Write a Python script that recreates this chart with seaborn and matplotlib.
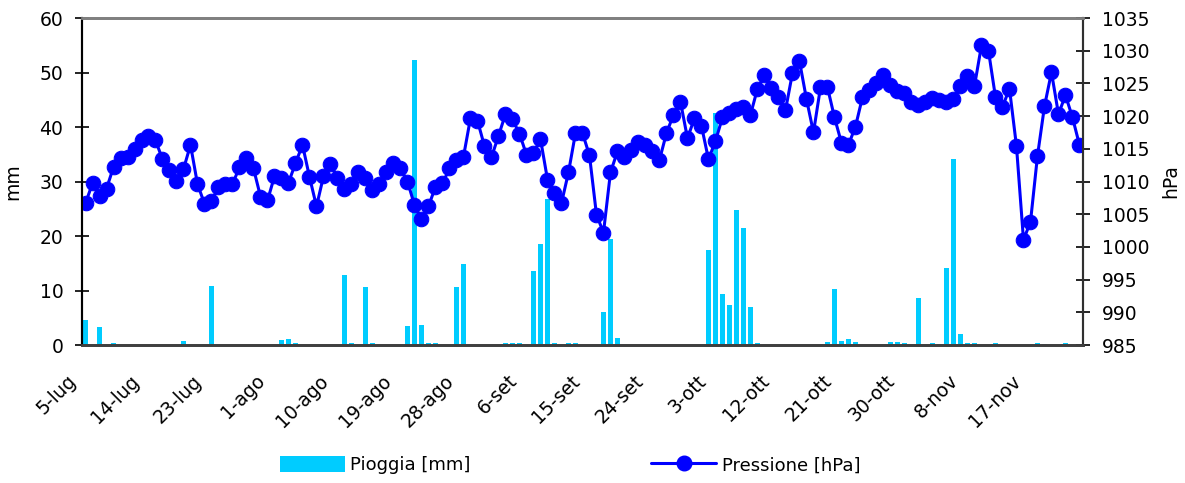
import numpy as np
import pandas as pd
import matplotlib
matplotlib.use("Agg")
import matplotlib.pyplot as plt
import matplotlib.transforms as mtransforms
import seaborn as sns
from matplotlib.lines import Line2D
from matplotlib.patches import Patch

# daily values, 5 July -> 24 November
pressione = [
    1006.7, 1009.7, 1007.8, 1008.9, 1012.2, 1013.6, 1013.8, 1014.9, 1016.3, 1017.0,
    1016.3, 1013.4, 1011.8, 1010.1, 1011.9, 1015.6, 1009.6, 1006.6, 1007.0, 1009.2,
    1009.6, 1009.6, 1012.2, 1013.6, 1012.0, 1007.7, 1007.1, 1010.8, 1010.6, 1009.8,
    1012.8, 1015.6, 1010.7, 1006.2, 1010.8, 1012.7, 1010.6, 1008.8, 1009.6, 1011.5,
    1010.5, 1008.7, 1009.6, 1011.5, 1012.8, 1012.0, 1010.0, 1006.4, 1004.2, 1006.2,
    1009.2, 1009.7, 1012.0, 1013.3, 1013.8, 1019.7, 1019.3, 1015.4, 1013.7, 1017.0,
    1020.3, 1019.5, 1017.3, 1014.1, 1014.3, 1016.5, 1010.3, 1008.3, 1006.7, 1011.4,
    1017.4, 1017.4, 1014.0, 1004.9, 1002.2, 1011.4, 1014.6, 1013.7, 1014.8, 1016.1,
    1015.6, 1014.6, 1013.3, 1017.4, 1020.2, 1022.2, 1016.6, 1019.7, 1018.5, 1013.4,
    1016.2, 1019.8, 1020.4, 1021.1, 1021.4, 1020.2, 1024.2, 1026.3, 1024.3, 1022.9,
    1020.9, 1026.6, 1028.4, 1022.6, 1017.5, 1024.4, 1024.4, 1019.8, 1015.9, 1015.6,
    1018.4, 1022.9, 1024.0, 1025.0, 1026.3, 1024.8, 1023.8, 1023.5, 1022.2, 1021.7,
    1022.2, 1022.7, 1022.5, 1022.1, 1022.6, 1024.6, 1026.2, 1024.6, 1030.8, 1030.0,
    1022.9, 1021.4, 1024.2, 1015.4, 1001.1, 1003.8, 1013.9, 1021.5, 1026.7, 1020.3,
    1023.2, 1019.8, 1015.6,
]

pioggia = [
    4.5, 0, 3.3, 0, 0.3, 0, 0, 0, 0, 0,
    0, 0, 0, 0, 0.8, 0, 0, 0, 10.9, 0,
    0, 0, 0, 0, 0, 0, 0, 0, 0.9, 1.1,
    0.3, 0, 0, 0, 0, 0, 0, 12.8, 0.3, 0,
    10.7, 0.3, 0, 0, 0, 0, 3.4, 52.3, 3.6, 0.3,
    0.3, 0, 0, 10.6, 14.9, 0, 0, 0, 0, 0,
    0.3, 0.3, 0.3, 0, 13.6, 18.6, 26.7, 0.3, 0, 0.3,
    0.3, 0, 0, 0, 6.0, 19.5, 1.2, 0, 0, 0,
    0, 0, 0, 0, 0, 0, 0, 0, 0, 17.4,
    42.6, 9.3, 7.4, 24.8, 21.5, 7.0, 0.3, 0, 0, 0,
    0, 0, 0, 0, 0, 0, 0.6, 10.3, 0.8, 1.1,
    0.5, 0, 0, 0, 0, 0.5, 0.5, 0.3, 0, 8.7,
    0, 0.3, 0.2, 14.1, 34.2, 2.1, 0.3, 0.3, 0, 0,
    0.3, 0, 0, 0, 0, 0, 0.4, 0.2, 0, 0,
    0.3, 0, 0,
]

tick_labels = ['5-lug', '14-lug', '23-lug', '1-ago', '10-ago', '19-ago', '28-ago',
               '6-set', '15-set', '24-set', '3-ott', '12-ott', '21-ott', '30-ott',
               '8-nov', '17-nov']

giorni = np.arange(len(pressione))
df = pd.DataFrame({'giorno': giorni, 'pioggia': pioggia, 'pressione': pressione})

sns.set_style("white")
plt.rcParams['font.family'] = ['DejaVu Sans']
plt.rcParams['font.size'] = 13.5
plt.rcParams['text.color'] = 'black'
plt.rcParams['axes.labelcolor'] = 'black'
plt.rcParams['xtick.color'] = 'black'
plt.rcParams['ytick.color'] = 'black'

fig = plt.figure(figsize=(11.85, 4.83), dpi=100)
ax = fig.add_axes([0.0692, 0.2857, 0.8447, 0.6770])

sns.barplot(data=df, x='giorno', y='pioggia', ax=ax, color='#00CCFF',
            saturation=1, width=0.65, linewidth=0, native_scale=True)

ax2 = ax.twinx()
sns.lineplot(data=df, x='giorno', y='pressione', ax=ax2, color='#0000FF',
             linewidth=2.2, marker='o', markersize=10.5, markeredgecolor='#0000FF')

ax.set_xlim(-0.5, len(pressione) - 0.5)
ax.set_ylim(0, 60)
ax.set_yticks(range(0, 61, 10))
ax2.set_ylim(985, 1035)
ax2.set_yticks(range(985, 1036, 5))

ax.set_xticks(range(0, len(pressione), 9))
ax.set_xticklabels(tick_labels, rotation=45, ha='right', va='top',
                   rotation_mode='anchor')
ax.tick_params(axis='x', length=0, pad=19, labelsize=13.5)
shift = mtransforms.ScaledTranslation(-0.19, 0, fig.dpi_scale_trans)
for lab in ax.get_xticklabels():
    lab.set_transform(lab.get_transform() + shift)

ax.tick_params(axis='y', direction='inout', length=10, width=1.2,
               left=True, pad=8.5, labelsize=13.5)
ax2.tick_params(axis='y', direction='inout', length=10, width=1.2,
                right=True, pad=8.5, labelsize=13.5)

ax.set_xlabel('')
ax.set_ylabel('mm', fontsize=13.5, labelpad=12)
ax2.set_ylabel('hPa', fontsize=13.5, labelpad=9)

for a in (ax, ax2):
    a.spines['left'].set_color('black')
    a.spines['left'].set_linewidth(1.5)
    a.spines['right'].set_color('#303030')
    a.spines['right'].set_linewidth(1.5)
    a.spines['top'].set_color('#808080')
    a.spines['top'].set_linewidth(2)
    a.spines['bottom'].set_color('#404040')
    a.spines['bottom'].set_linewidth(2)

handles = [Patch(facecolor='#00CCFF', edgecolor='none'),
           Line2D([], [], color='#0000FF', linewidth=2.2, marker='o',
                  markersize=10.5)]
fig.legend(handles, ['Pioggia [mm]', 'Pressione [hPa]'], loc='center',
           bbox_to_anchor=(0.481, 0.037), ncol=2, frameon=False,
           fontsize=13, handlelength=3.6, handleheight=1.0,
           columnspacing=10.0, handletextpad=0.3)

fig.savefig('out.png', dpi=100)
